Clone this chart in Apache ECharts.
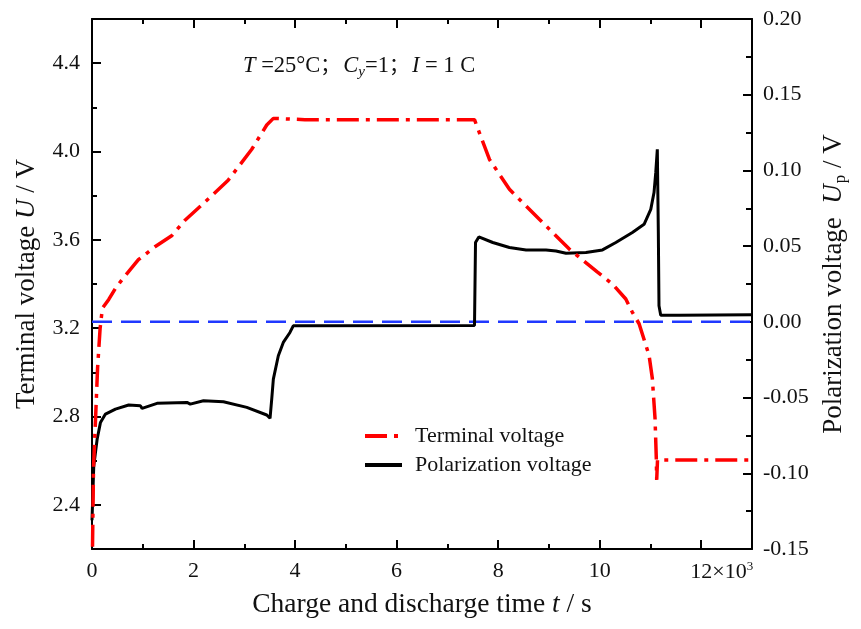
<!DOCTYPE html>
<html><head><meta charset="utf-8">
<script src="https://cdn.jsdelivr.net/npm/echarts@6/dist/echarts.min.js"></script>
<style>html,body{margin:0;padding:0;background:#fff}#c{width:861px;height:629px}</style>
</head><body><div id="c"></div>
<script>
// ---- data ----
const timeTerminal = [10, 30, 70, 110, 160, 205, 330, 462, 593, 914, 1248, 1576, 1837, 2361, 2682, 3147, 3442, 3572, 4194, 7534, 7568, 7829, 8222, 8353, 8811, 9401, 9951, 10251, 10514, 10644, 10776, 10972, 11037, 11090, 11115, 11123, 11139, 12980];
const terminalVoltage = [2.21, 2.57, 2.79, 3.02, 3.20, 3.29, 3.33, 3.38, 3.42, 3.51, 3.57, 3.62, 3.69, 3.80, 3.87, 4.01, 4.12, 4.15, 4.144, 4.144, 4.144, 3.964, 3.829, 3.798, 3.693, 3.558, 3.455, 3.400, 3.332, 3.272, 3.220, 3.077, 2.972, 2.791, 2.611, 2.513, 2.603, 2.603];
const timePolar = [0, 35, 102, 167, 265, 462, 723, 953, 986, 1281, 1870, 1935, 2196, 2589, 3049, 3442, 3507, 3540, 3572, 3670, 3768, 3899, 3964, 7534, 7554, 7619, 7894, 8222, 8550, 8943, 9139, 9336, 9729, 10055, 10318, 10644, 10874, 11006, 11070, 11104, 11135, 11155, 11168, 11202, 11562, 12980];
const polarVoltage = [-0.131, -0.095, -0.0774, -0.0664, -0.0609, -0.0576, -0.0549, -0.0554, -0.0571, -0.0538, -0.0532, -0.0543, -0.0521, -0.0528, -0.0565, -0.0615, -0.0637, -0.051, -0.0378, -0.0224, -0.0136, -0.007, -0.0026, -0.0024, 0.0524, 0.0561, 0.0524, 0.0491, 0.0475, 0.0475, 0.0468, 0.0453, 0.0458, 0.0475, 0.0524, 0.059, 0.0644, 0.0743, 0.0854, 0.0985, 0.1139, 0.059, 0.0106, 0.0044, 0.0044, 0.0047];
const zeroTime = [0, 13000];
const zeroValue = [0, 0];

const xMajorTicks = [0, 2000, 4000, 6000, 8000, 10000, 12000];
const xMinorTicks = [1000, 3000, 5000, 7000, 9000, 11000];
const leftMajorTicks = [2.4, 2.8, 3.2, 3.6, 4.0, 4.4];
const leftMinorTicks = [2.6, 3.0, 3.4, 3.8, 4.2];
const seriesNames = ['Terminal voltage', 'Polarization voltage'];

const FONT = "'Liberation Serif', 'Times New Roman', serif";
const CJK = "'Liberation Serif', 'Noto Sans CJK SC', serif";
const pairs = (xs, ys) => xs.map((x, i) => [x, ys[i]]);

const lineAx = { show: true, onZero: false, lineStyle: { color: '#000', width: 2 } };
const noLine = { show: false, onZero: false };
const baseX = { type: 'value', min: 0, max: 13000, gridIndex: 0, splitLine: { show: false } };
const baseYL = { type: 'value', min: 2.2, max: 4.6, position: 'left', splitLine: { show: false } };
const tickStyle = { color: '#000', width: 2 };

const chart = echarts.init(document.getElementById('c'), null, { renderer: 'canvas' });
chart.setOption({
  animation: false,
  backgroundColor: '#fff',
  grid: { left: 92, right: 109, top: 19, bottom: 80, containLabel: false },
  legend: {
    data: seriesNames, orient: 'vertical', left: 358, top: 420,
    itemWidth: 37, itemHeight: 12, itemGap: 7,
    itemStyle: { color: 'transparent', borderColor: 'transparent', borderWidth: 0, opacity: 0 },
    lineStyle: { width: 4 },
    textStyle: { fontFamily: FONT, fontSize: 22, color: '#111', padding: [0, 0, 0, 8] }
  },
  xAxis: [
    Object.assign({}, baseX, {
      position: 'bottom', axisLine: lineAx,
      axisTick: { inside: true, length: 9, customValues: xMajorTicks, lineStyle: tickStyle },
      axisLabel: {
        customValues: xMajorTicks, margin: 11, color: '#111', fontFamily: FONT, fontSize: 22,
        formatter: v => v === 12000 ? '{sp|}{n|12×10}{sup|3}' : String(v / 1000),
        rich: {
          sp: { width: 41 },
          n: { fontFamily: FONT, fontSize: 22, color: '#111' },
          sup: { fontFamily: FONT, fontSize: 13, color: '#111', verticalAlign: 'top', padding: [0, 0, 12, 0] }
        }
      },
      name: 'Charge and discharge time {i|t} / s', nameLocation: 'middle', nameGap: 42,
      nameTextStyle: { fontFamily: FONT, fontSize: 27.5, color: '#111',
        rich: { i: { fontFamily: FONT, fontSize: 27.5, fontStyle: 'italic', color: '#111' } } }
    }),
    Object.assign({}, baseX, {
      position: 'bottom', axisLine: noLine,
      axisTick: { inside: true, length: 5, customValues: xMinorTicks, lineStyle: tickStyle },
      axisLabel: { show: false }
    }),
    Object.assign({}, baseX, {
      position: 'top', axisLine: lineAx,
      axisTick: { inside: true, length: 9, customValues: xMajorTicks, lineStyle: tickStyle },
      axisLabel: { show: false }
    }),
    Object.assign({}, baseX, {
      position: 'top', axisLine: noLine,
      axisTick: { inside: true, length: 5, customValues: xMinorTicks, lineStyle: tickStyle },
      axisLabel: { show: false }
    })
  ],
  yAxis: [
    Object.assign({}, baseYL, {
      axisLine: lineAx,
      axisTick: { inside: true, length: 9, customValues: leftMajorTicks, lineStyle: tickStyle },
      axisLabel: { customValues: leftMajorTicks, margin: 12, color: '#111', fontFamily: FONT, fontSize: 22,
        formatter: v => v.toFixed(1) },
      name: 'Terminal voltage {i|U} / V', nameLocation: 'middle', nameGap: 52, nameRotate: 90,
      nameTextStyle: { fontFamily: FONT, fontSize: 27, color: '#111',
        rich: { i: { fontFamily: FONT, fontSize: 27, fontStyle: 'italic', color: '#111' } } }
    }),
    Object.assign({}, baseYL, {
      axisLine: noLine,
      axisTick: { inside: true, length: 5, customValues: leftMinorTicks, lineStyle: tickStyle },
      axisLabel: { show: false }
    }),
    {
      type: 'value', min: -0.15, max: 0.20, interval: 0.05, position: 'right', splitLine: { show: false },
      axisLine: lineAx,
      axisTick: { inside: true, length: 9, lineStyle: tickStyle },
      minorTick: { show: true, splitNumber: 2, length: 6, lineStyle: tickStyle },
      axisLabel: { margin: 11, color: '#111', fontFamily: FONT, fontSize: 22, formatter: v => v.toFixed(2) },
      name: 'Polarization voltage  {i|U}{sub|p} / V', nameLocation: 'middle', nameGap: 66, nameRotate: 90,
      nameTextStyle: { fontFamily: FONT, fontSize: 27, color: '#111',
        rich: {
          i: { fontFamily: FONT, fontSize: 27, fontStyle: 'italic', color: '#111' },
          sub: { fontFamily: FONT, fontSize: 17, color: '#111', verticalAlign: 'bottom', padding: [14, 0, 0, 1] }
        } }
    }
  ],
  graphic: [{
    type: 'text', left: 243, top: 55, silent: true,
    style: {
      text: '{i|T} =25°C{c|；}{i|C}{sub|y}=1{c|；}{i|I} = 1 C',
      fontFamily: FONT, fontSize: 22.5, fill: '#111',
      rich: {
        i: { fontFamily: FONT, fontSize: 22.5, fontStyle: 'italic', fill: '#111', color: '#111' },
        c: { fontFamily: CJK, fontSize: 20, fill: '#111', color: '#111', padding: [0, 3, 0, 0] },
        sub: { fontFamily: FONT, fontSize: 15, fontStyle: 'italic', fill: '#111', color: '#111', verticalAlign: 'bottom', padding: [12, 0, 0, 0] }
      }
    }
  }],
  series: [
    {
      name: 'zero', type: 'line', xAxisIndex: 0, yAxisIndex: 2, data: pairs(zeroTime, zeroValue),
      showSymbol: false, symbol: 'none', silent: true,
      lineStyle: { color: '#2038ff', width: 2.5, type: [20, 9] }, z: 1
    },
    {
      name: seriesNames[0], type: 'line', xAxisIndex: 0, yAxisIndex: 0, data: pairs(timeTerminal, terminalVoltage),
      showSymbol: false, symbol: 'none', color: '#ff0000',
      lineStyle: { color: '#ff0000', width: 3.5, type: [22, 7, 4, 7] }, z: 3
    },
    {
      name: seriesNames[1], type: 'line', xAxisIndex: 0, yAxisIndex: 2, data: pairs(timePolar, polarVoltage),
      showSymbol: false, symbol: 'none', color: '#000',
      lineStyle: { color: '#000', width: 3 }, z: 2
    }
  ]
});
</script></body></html>
